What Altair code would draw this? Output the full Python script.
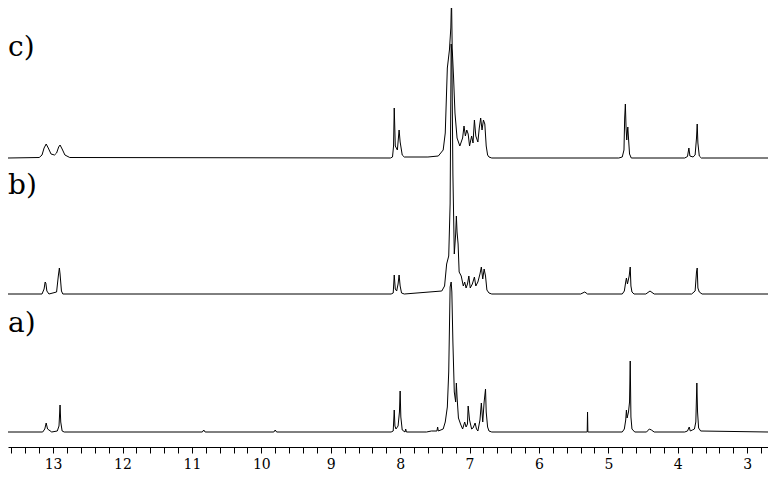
import altair as alt
import pandas as pd

# ---- spectrum c) (top) : chemical shift (ppm) and intensity (px above its baseline)
ppm_c = [13.65, 13.20, 13.16, 13.13, 13.10, 13.07, 13.03, 12.98, 12.95, 12.92, 12.90, 12.87, 12.83, 12.76,
         8.14, 8.11, 8.095, 8.085, 8.07, 8.04, 8.025, 8.015, 8.00, 7.97, 7.94,
         7.60, 7.45, 7.38, 7.35, 7.32, 7.29, 7.27, 7.26, 7.25, 7.23, 7.21, 7.18, 7.14,
         7.10, 7.08, 7.06, 7.04, 7.02, 7.00, 6.97, 6.95, 6.93, 6.91, 6.88, 6.86, 6.84, 6.82, 6.80, 6.78, 6.76, 6.74, 6.72, 6.68,
         4.85, 4.80, 4.775, 4.765, 4.755, 4.745, 4.735, 4.72, 4.71, 4.695, 4.67,
         3.90, 3.86, 3.84, 3.825, 3.78, 3.75, 3.73, 3.72, 3.71, 3.69, 3.66, 2.70]
int_c = [0, 0.5, 3, 10, 14, 10, 4, 3, 5, 11, 13, 9, 3, 0.5,
         0, 1, 12, 50, 12, 8, 20, 28, 16, 3, 1,
         1, 2, 8, 25, 90, 108, 130, 160, 110, 80, 45, 20, 12,
         20, 32, 22, 28, 24, 12, 22, 15, 38, 22, 16, 30, 40, 28, 38, 34, 12, 3, 1, 0,
         0, 1, 8, 40, 54, 30, 18, 31, 20, 4, 0,
         0, 1.5, 10, 2, 1, 3, 20, 34, 15, 2, 0, 0]

# ---- spectrum b) (middle)
ppm_b = [13.65, 13.16, 13.13, 13.115, 13.105, 13.09, 13.06, 12.95, 12.925, 12.91, 12.90, 12.88, 12.86,
         8.13, 8.10, 8.085, 8.07, 8.05, 8.03, 8.015, 8.00, 7.98, 7.94,
         7.40, 7.36, 7.33, 7.30, 7.28, 7.265, 7.255, 7.24, 7.22, 7.20, 7.19, 7.18, 7.165, 7.15, 7.12,
         7.09, 7.07, 7.05, 7.03, 7.01, 6.99, 6.96, 6.93, 6.91, 6.88, 6.85, 6.83, 6.81, 6.79, 6.77, 6.75, 6.72, 6.68,
         5.40, 5.34, 5.30, 4.80, 4.77, 4.75, 4.74, 4.725, 4.70, 4.685, 4.675, 4.66, 4.63, 4.46, 4.40, 4.34,
         3.80, 3.75, 3.73, 3.72, 3.71, 3.69, 3.65, 2.70]
int_b = [0, 0, 5, 12, 11, 3, 0, 2, 18, 26, 20, 3, 0,
         0, 1, 19, 5, 3, 10, 19, 8, 1, 0,
         3, 8, 30, 38, 90, 250, 240, 120, 40, 60, 78, 62, 50, 22, 18,
         8, 12, 6, 10, 18, 6, 10, 17, 8, 12, 20, 27, 15, 25, 18, 4, 1, 0,
         0, 2, 0, 0, 3, 12, 16, 10, 18, 27, 8, 2, 0, 0, 3, 0,
         0, 3, 22, 26, 6, 2, 0, 0]

# ---- spectrum a) (bottom)
ppm_a = [13.65, 13.15, 13.12, 13.10, 13.08, 13.02, 12.94, 12.915, 12.90, 12.89, 12.87, 12.84,
         10.85, 10.83, 10.81, 9.82, 9.80, 9.78,
         8.13, 8.10, 8.085, 8.075, 8.06, 8.03, 8.01, 8.00, 7.99, 7.97, 7.93, 7.92, 7.91,
         7.62, 7.55, 7.47, 7.46, 7.45, 7.38, 7.35, 7.32, 7.30, 7.28, 7.265, 7.255, 7.24, 7.22, 7.20, 7.19, 7.18, 7.16, 7.13,
         7.10, 7.07, 7.05, 7.03, 7.02, 7.00, 6.97, 6.95, 6.92, 6.90, 6.88, 6.85, 6.83, 6.81, 6.79, 6.77, 6.76, 6.74, 6.72, 6.68,
         5.32, 5.305, 5.30, 5.295, 5.28,
         4.80, 4.77, 4.75, 4.74, 4.73, 4.71, 4.695, 4.685, 4.675, 4.66, 4.62,
         4.45, 4.41, 4.38, 4.34, 3.90, 3.86, 3.835, 3.82, 3.79, 3.76, 3.74, 3.725, 3.715, 3.70, 3.67, 2.70]
int_a = [0, 0, 3, 9, 3, 0, 1, 6, 27, 10, 1, 0,
         0, 2, 0, 0, 2, 0,
         0, 1, 22, 6, 3, 6, 20, 41, 15, 2, 0, 3, 0,
         0, 1, 1, 5, 1, 3, 10, 25, 60, 145, 150, 140, 90, 40, 30, 49, 35, 14, 8,
         3, 10, 5, 8, 26, 12, 3, 4, 9, 3, 1, 12, 29, 10, 30, 43, 20, 5, 1, 0,
         0, 0, 20, 0, 0,
         0, 3, 12, 22, 14, 20, 30, 71, 15, 3, 0,
         0, 3, 2, 0, 0, 1, 5, 1, 2, 3, 10, 49, 20, 4, 1, 0]

labels = ["c)", "b)", "a)"]

assert len(ppm_c) == len(int_c)
assert len(ppm_b) == len(int_b)
assert len(ppm_a) == len(int_a)

# layout (vertical stacking offsets, in plot pixels from the axis)
OFFSET = {"c)": 289, "b)": 153, "a)": 15}
LABEL_Y = {"c)": 399, "b)": 261, "a)": 123}

SERIF = "DejaVu Serif"

rows = []
for name, pp, ii in [("c)", ppm_c, int_c), ("b)", ppm_b, int_b), ("a)", ppm_a, int_a)]:
    for p, v in zip(pp, ii):
        rows.append({"trace": name, "ppm": p, "y": OFFSET[name] + v})
df = pd.DataFrame(rows)

df_lab = pd.DataFrame({"label": labels, "y": [LABEL_Y[l] for l in labels]})

x_scale = alt.Scale(domain=[2.7, 13.65], reverse=True, nice=False, zero=False)
y_scale = alt.Scale(domain=[0, 439], nice=False, zero=False)

tick_vals = [round(2.8 + 0.2 * i, 1) for i in range(55)]

x_axis = alt.Axis(
    values=tick_vals,
    labelExpr="abs(datum.value - round(datum.value)) < 0.01 ? format(datum.value, 'd') : ''",
    tickSize=6, tickColor="black", tickWidth=1,
    domainColor="black", domainWidth=1,
    labelFont=SERIF, labelFontSize=14, labelColor="black",
    labelPadding=4, labelOverlap=False, labelFlush=False, grid=False,
)

lines = alt.Chart(df).mark_line(color="black", strokeWidth=1.0, clip=True).encode(
    x=alt.X("ppm:Q", scale=x_scale, axis=x_axis, title=None),
    y=alt.Y("y:Q", scale=y_scale, axis=None),
    detail="trace:N",
)

texts = alt.Chart(df_lab).mark_text(
    align="left", baseline="middle", font=SERIF, fontSize=28, color="black"
).encode(
    x=alt.value(0),
    y=alt.Y("y:Q", scale=y_scale, axis=None),
    text="label:N",
)

chart = alt.layer(lines, texts).properties(
    width=760, height=439, padding=0, background="white"
).configure_view(stroke=None)

chart.save("out.html", embed_options={"renderer": "svg", "actions": False})
